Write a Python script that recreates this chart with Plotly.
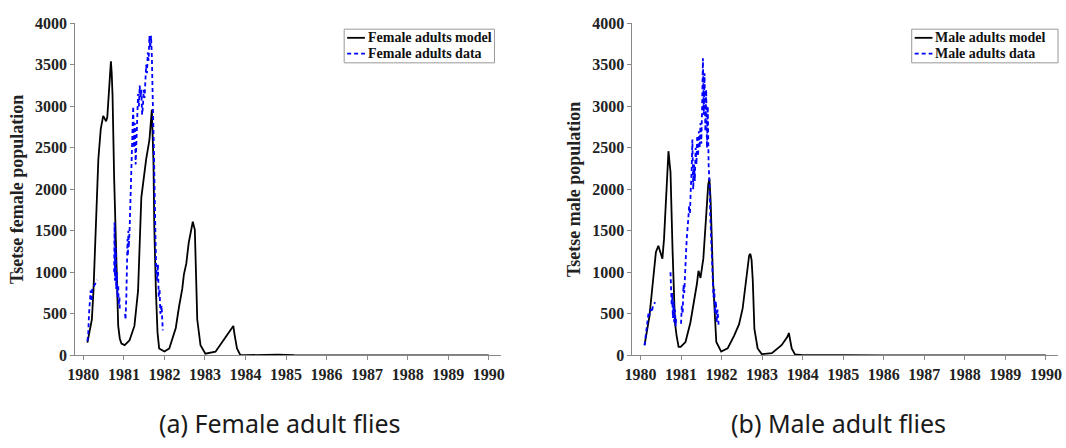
import plotly.graph_objects as go

# ---------------- data ----------------
female_model_t = [1980.10, 1980.15, 1980.21, 1980.25, 1980.29, 1980.33, 1980.37, 1980.43, 1980.49, 1980.53,
                  1980.56, 1980.59, 1980.63, 1980.66, 1980.68, 1980.70, 1980.72, 1980.76, 1980.82, 1980.86,
                  1980.90, 1980.94, 1981.02, 1981.14, 1981.26, 1981.35, 1981.43, 1981.47, 1981.55, 1981.63,
                  1981.67, 1981.69, 1981.73, 1981.75, 1981.79, 1981.83, 1981.87, 1982.00, 1982.12, 1982.20,
                  1982.28, 1982.36, 1982.44, 1982.48, 1982.54, 1982.60, 1982.70, 1982.75, 1982.81, 1982.89,
                  1983.01, 1983.26, 1983.50, 1983.62, 1983.70, 1983.73, 1983.79, 1983.87, 1984.00, 1984.50,
                  1984.80, 1985.20, 1986.00, 1987.00, 1988.00, 1989.00, 1990.00]
female_model_v = [153, 280, 431, 779, 1359, 1900, 2363, 2730, 2885, 2850,
                  2820, 2866, 3136, 3300, 3542, 3400, 3136, 2131, 972, 354,
                  200, 141, 122, 180, 354, 779, 1900, 2073, 2363, 2595,
                  2942, 2960, 2325, 1551, 779, 276, 83, 45, 83, 200,
                  330, 585, 800, 972, 1107, 1359, 1609, 1512, 431, 122,
                  20, 44, 218, 310, 354, 250, 83, 6, 2, 5,
                  8, 2, 0, 0, 0, 0, 0]

female_data_t = [1980.10, 1980.12, 1980.14, 1980.16, 1980.18, 1980.20, 1980.22, 1980.25, 1980.28, 1980.31, 1980.34, None,
                 1980.76, 1980.77, 1980.78, 1980.80, 1980.81, 1980.83, 1980.84, 1980.86, 1980.87, 1980.89, 1980.90, None,
                 1981.03, 1981.04, 1981.06, 1981.08, 1981.09, 1981.10, 1981.11, 1981.12, 1981.14, 1981.16, 1981.19,
                 1981.21, 1981.23, 1981.25, 1981.27, 1981.29, 1981.31, 1981.33, 1981.35, 1981.37, 1981.39, 1981.41,
                 1981.43, 1981.45, 1981.47, 1981.49, 1981.51, 1981.53, 1981.55, 1981.57, 1981.59, 1981.61, 1981.63,
                 1981.65, 1981.67, 1981.69, 1981.71, 1981.72, 1981.74, 1981.76, 1981.78, 1981.80, 1981.82, 1981.84,
                 1981.86, 1981.88, 1981.90, 1981.93, 1981.96]
female_data_v = [170, 250, 500, 700, 780, 650, 800, 820, 850, 880, 910, None,
                 1000, 1600, 900, 1300, 800, 1000, 700, 850, 600, 700, 550, None,
                 500, 430, 700, 1000, 1400, 1200, 1500, 1300, 1500, 1900, 2300,
                 2700, 3000, 2500, 2800, 2300, 2700, 2900, 3150, 3000, 3250, 3100,
                 3200, 2900, 3000, 3200, 3100, 3300, 3500, 3400, 3650, 3550, 3850,
                 3700, 3850, 3600, 3300, 2900, 2500, 1600, 1400, 1000, 900, 1100,
                 700, 800, 500, 600, 300]

male_model_t = [1980.10, 1980.16, 1980.22, 1980.30, 1980.38, 1980.44, 1980.49, 1980.54, 1980.58, 1980.62,
                1980.66, 1980.69, 1980.72, 1980.74, 1980.79, 1980.82, 1980.85, 1980.89, 1980.94, 1980.99,
                1981.11, 1981.23, 1981.34, 1981.39, 1981.43, 1981.48, 1981.55, 1981.61, 1981.67, 1981.70,
                1981.73, 1981.79, 1981.87, 1981.99, 1982.15, 1982.31, 1982.43, 1982.52, 1982.60, 1982.64,
                1982.68, 1982.71, 1982.74, 1982.77, 1982.81, 1982.89, 1982.99, 1983.24, 1983.48, 1983.62,
                1983.66, 1983.73, 1983.81, 1984.00, 1984.50, 1985.00, 1986.00, 1987.00, 1988.00, 1989.00,
                1990.00]
male_model_v = [122, 300, 470, 856, 1243, 1320, 1250, 1165, 1400, 1745,
                2200, 2460, 2300, 2209, 1281, 856, 392, 238, 102, 102,
                160, 392, 701, 856, 1018, 933, 1165, 1667, 2054, 2131,
                1861, 895, 160, 44, 83, 238, 373, 566, 856, 1000,
                1203, 1223, 1150, 898, 315, 83, 14, 25, 122, 220,
                269, 83, 10, 2, 4, 1, 0, 0, 0, 0,
                0]

male_data_t = [1980.10, 1980.12, 1980.14, 1980.16, 1980.18, 1980.20, 1980.22, 1980.25, 1980.28, 1980.31, 1980.34, 1980.36, None,
               1980.74, 1980.75, 1980.77, 1980.78, 1980.80, 1980.82, 1980.83, 1980.85, 1980.87, 1980.88, None,
               1981.00, 1981.02, 1981.04, 1981.06, 1981.08, 1981.10, 1981.12, 1981.14, 1981.16, 1981.18, 1981.20,
               1981.22, 1981.24, 1981.26, 1981.28, 1981.30, 1981.32, 1981.34, 1981.36, 1981.38, 1981.40, 1981.42,
               1981.44, 1981.46, 1981.48, 1981.50, 1981.52, 1981.54, 1981.56, 1981.58, 1981.60, 1981.62, 1981.64,
               1981.66, 1981.68, 1981.70, 1981.72, 1981.74, 1981.76, 1981.78, 1981.80, 1981.82, 1981.84, 1981.86,
               1981.88, 1981.90, 1981.93]
male_data_v = [120, 200, 280, 380, 450, 520, 480, 560, 520, 600, 620, 640, None,
               1000, 850, 600, 750, 450, 650, 400, 550, 350, 450, None,
               380, 600, 500, 850, 750, 1100, 1200, 1400, 1500, 1650, 1800,
               1700, 2000, 2200, 2600, 2000, 2300, 2100, 2500, 2300, 2650, 2400,
               2700, 2500, 2800, 2550, 3000, 3580, 2900, 3400, 2700, 3200, 2500,
               3000, 2300, 2100, 1700, 1400, 1100, 900, 700, 800, 500, 650,
               400, 550, 350]

years = [1980, 1981, 1982, 1983, 1984, 1985, 1986, 1987, 1988, 1989, 1990]
yticks = [0, 500, 1000, 1500, 2000, 2500, 3000, 3500, 4000]

legend_left = ["Female adults model", "Female adults data"]
legend_right = ["Male adults model", "Male adults data"]
captions = ["(a) Female adult flies", "(b) Male adult flies"]
ytitles = ["Tsetse female population", "Tsetse male population"]

# ---------------- figure ----------------
W, H = 1066, 448
SERIF = "Liberation Serif"
BLUE = "#0000ff"
DASH = "4px,3px"

fig = go.Figure()
fig.add_trace(go.Scatter(x=female_model_t, y=female_model_v, mode="lines", name=legend_left[0],
                         line=dict(color="black", width=1.8), xaxis="x", yaxis="y"))
fig.add_trace(go.Scatter(x=female_data_t, y=female_data_v, mode="lines", name=legend_left[1],
                         line=dict(color=BLUE, width=1.8, dash=DASH), xaxis="x", yaxis="y"))
fig.add_trace(go.Scatter(x=male_model_t, y=male_model_v, mode="lines", name=legend_right[0],
                         line=dict(color="black", width=1.8), xaxis="x2", yaxis="y2"))
fig.add_trace(go.Scatter(x=male_data_t, y=male_data_v, mode="lines", name=legend_right[1],
                         line=dict(color=BLUE, width=1.8, dash=DASH), xaxis="x2", yaxis="y2"))

tickfont = dict(family=SERIF, size=16, color="#222", weight="bold")
xcommon = dict(range=[1979.8, 1990.3], tickvals=years, ticktext=["<b>%d</b>" % v for v in years],
               showline=True, linecolor="#888", linewidth=1,
               ticks="outside", ticklen=4, tickcolor="#888", showgrid=False, zeroline=False,
               tickfont=tickfont, mirror=False)
ycommon = dict(range=[0, 4000], tickvals=yticks, ticktext=["<b>%d</b>" % v for v in yticks],
               showline=True, linecolor="#888", linewidth=1,
               ticks="outside", ticklen=4, tickcolor="#888", showgrid=False, zeroline=False,
               tickfont=tickfont, mirror=False)

y_bot = (H - 361) / H
y_top = (H - 16) / H
titlefont = dict(family=SERIF, size=18, color="#222")

fig.update_layout(
    width=W, height=H, margin=dict(l=0, r=0, t=0, b=0),
    font=dict(family=SERIF, color="#222"),
    paper_bgcolor="white", plot_bgcolor="white", showlegend=False,
    xaxis=dict(domain=[68 / W, 498.5 / W], anchor="y", **xcommon),
    yaxis=dict(domain=[y_bot, y_top], anchor="x",
               title=dict(text="<b>%s</b>" % ytitles[0], font=titlefont, standoff=6), **ycommon),
    xaxis2=dict(domain=[631.5 / W, 1062 / W], anchor="y2", **xcommon),
    yaxis2=dict(domain=[y_bot, y_top], anchor="x2",
                title=dict(text="<b>%s</b>" % ytitles[1], font=titlefont, standoff=6), **ycommon),
)

# legends (boxes with line samples and labels), in pixel -> paper coordinates
def px(x):
    return x / W

def py(y):
    return (H - y) / H

legend_specs = [(340, 492, legend_left), (914, 1062, legend_right)]
for (x0, x1, labels) in legend_specs:
    fig.add_shape(type="rect", xref="paper", yref="paper", x0=px(x0), x1=px(x1), y0=py(57), y1=py(22),
                  line=dict(color="#999", width=1), fillcolor="white", layer="above")
    for i, (lab, col, dash) in enumerate(zip(labels, ["black", BLUE], ["solid", DASH])):
        yy = 31 + 16.5 * i
        fig.add_shape(type="line", xref="paper", yref="paper", x0=px(x0 + 3), x1=px(x0 + 21),
                      y0=py(yy), y1=py(yy), line=dict(color=col, width=1.8, dash=dash), layer="above")
        fig.add_annotation(text="<b>%s</b>" % lab, x=px(x0 + 22), y=py(yy), xref="paper", yref="paper",
                           showarrow=False, xanchor="left", yanchor="middle",
                           font=dict(family=SERIF, size=14, color="#111"))

for cap, cx in zip(captions, [274.5, 840]):
    fig.add_annotation(text=cap, x=px(cx), y=py(431), xref="paper", yref="paper",
                       showarrow=False, xanchor="center", yanchor="middle",
                       font=dict(family="Noto Sans", size=25, color="#1a1a1a"))

fig.write_html("out.html")
